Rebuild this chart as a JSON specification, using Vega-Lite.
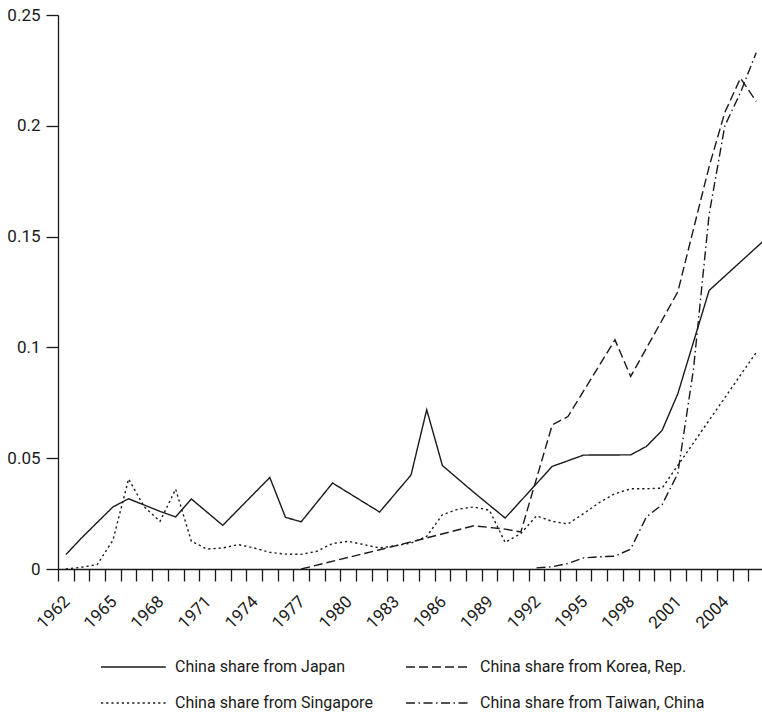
{
  "$schema": "https://vega.github.io/schema/vega-lite/v6.json",
  "width": 704,
  "height": 554,
  "autosize": {"type": "none"},
  "padding": {"left": 58, "top": 15, "right": 0, "bottom": 153},
  "background": "white",
  "config": {
    "font": "Roboto, sans-serif",
    "view": {"stroke": null},
    "axis": {
      "grid": false,
      "domainColor": "#1a1a1a",
      "domainWidth": 1.3,
      "tickColor": "#1a1a1a",
      "tickWidth": 1.3,
      "tickSize": 12,
      "labelColor": "#1a1a1a",
      "labelFontSize": 17,
      "labelFont": "Roboto, sans-serif",
      "title": null
    }
  },
  "datasets": {
    "shares": [
      {"series": "China share from Japan", "year": 1962, "share": 0.0065},
      {"series": "China share from Japan", "year": 1963, "share": 0.014},
      {"series": "China share from Japan", "year": 1964, "share": 0.021},
      {"series": "China share from Japan", "year": 1965, "share": 0.028},
      {"series": "China share from Japan", "year": 1966, "share": 0.0317},
      {"series": "China share from Japan", "year": 1968, "share": 0.026},
      {"series": "China share from Japan", "year": 1969, "share": 0.0235},
      {"series": "China share from Japan", "year": 1970, "share": 0.0316},
      {"series": "China share from Japan", "year": 1972, "share": 0.0197},
      {"series": "China share from Japan", "year": 1975, "share": 0.0413},
      {"series": "China share from Japan", "year": 1976, "share": 0.0233},
      {"series": "China share from Japan", "year": 1977, "share": 0.0213},
      {"series": "China share from Japan", "year": 1979, "share": 0.0388},
      {"series": "China share from Japan", "year": 1982, "share": 0.0257},
      {"series": "China share from Japan", "year": 1984, "share": 0.0424},
      {"series": "China share from Japan", "year": 1985, "share": 0.0719},
      {"series": "China share from Japan", "year": 1986, "share": 0.0467},
      {"series": "China share from Japan", "year": 1988, "share": 0.0346},
      {"series": "China share from Japan", "year": 1990, "share": 0.023},
      {"series": "China share from Japan", "year": 1993, "share": 0.0463},
      {"series": "China share from Japan", "year": 1995, "share": 0.0514},
      {"series": "China share from Japan", "year": 1998, "share": 0.0515},
      {"series": "China share from Japan", "year": 1999, "share": 0.0553},
      {"series": "China share from Japan", "year": 2000, "share": 0.0625},
      {"series": "China share from Japan", "year": 2001, "share": 0.079},
      {"series": "China share from Japan", "year": 2003, "share": 0.1257},
      {"series": "China share from Japan", "year": 2007, "share": 0.1515},

      {"series": "China share from Korea, Rep.", "year": 1977, "share": 0.0},
      {"series": "China share from Korea, Rep.", "year": 1982, "share": 0.0087},
      {"series": "China share from Korea, Rep.", "year": 1985, "share": 0.014},
      {"series": "China share from Korea, Rep.", "year": 1988, "share": 0.0195},
      {"series": "China share from Korea, Rep.", "year": 1990, "share": 0.018},
      {"series": "China share from Korea, Rep.", "year": 1991, "share": 0.0167},
      {"series": "China share from Korea, Rep.", "year": 1993, "share": 0.065},
      {"series": "China share from Korea, Rep.", "year": 1994, "share": 0.0688},
      {"series": "China share from Korea, Rep.", "year": 1997, "share": 0.1034},
      {"series": "China share from Korea, Rep.", "year": 1998, "share": 0.0869},
      {"series": "China share from Korea, Rep.", "year": 2001, "share": 0.125},
      {"series": "China share from Korea, Rep.", "year": 2003, "share": 0.1816},
      {"series": "China share from Korea, Rep.", "year": 2004, "share": 0.206},
      {"series": "China share from Korea, Rep.", "year": 2005, "share": 0.2215},
      {"series": "China share from Korea, Rep.", "year": 2006, "share": 0.211},

      {"series": "China share from Singapore", "year": 1962, "share": 0.0},
      {"series": "China share from Singapore", "year": 1963, "share": 0.0008},
      {"series": "China share from Singapore", "year": 1964, "share": 0.002},
      {"series": "China share from Singapore", "year": 1965, "share": 0.013},
      {"series": "China share from Singapore", "year": 1966, "share": 0.0406},
      {"series": "China share from Singapore", "year": 1967, "share": 0.028},
      {"series": "China share from Singapore", "year": 1968, "share": 0.0215},
      {"series": "China share from Singapore", "year": 1969, "share": 0.036},
      {"series": "China share from Singapore", "year": 1970, "share": 0.0125},
      {"series": "China share from Singapore", "year": 1971, "share": 0.009},
      {"series": "China share from Singapore", "year": 1972, "share": 0.0095},
      {"series": "China share from Singapore", "year": 1973, "share": 0.011},
      {"series": "China share from Singapore", "year": 1974, "share": 0.0095},
      {"series": "China share from Singapore", "year": 1975, "share": 0.0075},
      {"series": "China share from Singapore", "year": 1976, "share": 0.0067},
      {"series": "China share from Singapore", "year": 1977, "share": 0.0066},
      {"series": "China share from Singapore", "year": 1978, "share": 0.008},
      {"series": "China share from Singapore", "year": 1979, "share": 0.0115},
      {"series": "China share from Singapore", "year": 1980, "share": 0.0125},
      {"series": "China share from Singapore", "year": 1981, "share": 0.011},
      {"series": "China share from Singapore", "year": 1982, "share": 0.0095},
      {"series": "China share from Singapore", "year": 1983, "share": 0.0105},
      {"series": "China share from Singapore", "year": 1984, "share": 0.0117},
      {"series": "China share from Singapore", "year": 1985, "share": 0.0147},
      {"series": "China share from Singapore", "year": 1986, "share": 0.0245},
      {"series": "China share from Singapore", "year": 1987, "share": 0.027},
      {"series": "China share from Singapore", "year": 1988, "share": 0.028},
      {"series": "China share from Singapore", "year": 1989, "share": 0.0265},
      {"series": "China share from Singapore", "year": 1990, "share": 0.012},
      {"series": "China share from Singapore", "year": 1991, "share": 0.016},
      {"series": "China share from Singapore", "year": 1992, "share": 0.024},
      {"series": "China share from Singapore", "year": 1993, "share": 0.0215},
      {"series": "China share from Singapore", "year": 1994, "share": 0.0203},
      {"series": "China share from Singapore", "year": 1995, "share": 0.025},
      {"series": "China share from Singapore", "year": 1996, "share": 0.03},
      {"series": "China share from Singapore", "year": 1997, "share": 0.034},
      {"series": "China share from Singapore", "year": 1998, "share": 0.0362},
      {"series": "China share from Singapore", "year": 1999, "share": 0.0362},
      {"series": "China share from Singapore", "year": 2000, "share": 0.0365},
      {"series": "China share from Singapore", "year": 2006, "share": 0.0977},

      {"series": "China share from Taiwan, China", "year": 1992, "share": 0.0005},
      {"series": "China share from Taiwan, China", "year": 1993, "share": 0.001},
      {"series": "China share from Taiwan, China", "year": 1994, "share": 0.0025},
      {"series": "China share from Taiwan, China", "year": 1995, "share": 0.005},
      {"series": "China share from Taiwan, China", "year": 1996, "share": 0.0055},
      {"series": "China share from Taiwan, China", "year": 1997, "share": 0.0058},
      {"series": "China share from Taiwan, China", "year": 1998, "share": 0.009},
      {"series": "China share from Taiwan, China", "year": 1999, "share": 0.0235},
      {"series": "China share from Taiwan, China", "year": 2000, "share": 0.029},
      {"series": "China share from Taiwan, China", "year": 2001, "share": 0.043},
      {"series": "China share from Taiwan, China", "year": 2002, "share": 0.09},
      {"series": "China share from Taiwan, China", "year": 2003, "share": 0.16},
      {"series": "China share from Taiwan, China", "year": 2004, "share": 0.2},
      {"series": "China share from Taiwan, China", "year": 2005, "share": 0.215},
      {"series": "China share from Taiwan, China", "year": 2006, "share": 0.233}
    ]
  },
  "data": {"name": "shares"},
  "mark": {"type": "line", "clip": true, "color": "#1a1a1a"},
  "encoding": {
    "x": {
      "field": "year",
      "type": "quantitative",
      "scale": {"domain": [1961.5, 2006.37], "nice": false, "zero": false},
      "axis": {
        "values": [1962, 1963, 1964, 1965, 1966, 1967, 1968, 1969, 1970, 1971, 1972, 1973, 1974, 1975, 1976, 1977, 1978, 1979, 1980, 1981, 1982, 1983, 1984, 1985, 1986, 1987, 1988, 1989, 1990, 1991, 1992, 1993, 1994, 1995, 1996, 1997, 1998, 1999, 2000, 2001, 2002, 2003, 2004, 2005, 2006],
        "format": "d",
        "tickOffset": -7.84,
        "labelExpr": "(datum.value - 1962) % 3 === 0 ? datum.label : ''",
        "labelAngle": -45,
        "labelOverlap": false,
        "labelFlush": false,
        "labelPadding": 12,
        "labelOffset": 3
      }
    },
    "y": {
      "field": "share",
      "type": "quantitative",
      "scale": {"domain": [0, 0.25], "nice": false},
      "axis": {
        "values": [0, 0.05, 0.1, 0.15, 0.2, 0.25],
        "format": "~g",
        "labelFlush": false,
        "labelOverlap": false,
        "labelPadding": 6
      }
    },
    "strokeWidth": {
      "field": "series",
      "type": "nominal",
      "scale": {
        "domain": ["China share from Japan", "China share from Korea, Rep.", "China share from Singapore", "China share from Taiwan, China"],
        "range": [1.4, 1.4, 2.3, 1.4]
      },
      "legend": null
    },
    "strokeDash": {
      "field": "series",
      "type": "nominal",
      "scale": {
        "domain": ["China share from Japan", "China share from Korea, Rep.", "China share from Singapore", "China share from Taiwan, China"],
        "range": [[1, 0], [9, 4], [2.2, 3], [9, 3.5, 1.5, 3.5]]
      },
      "legend": {
        "title": null,
        "orient": "none",
        "legendX": 34,
        "legendY": 643,
        "direction": "horizontal",
        "columns": 2,
        "columnPadding": 24,
        "rowPadding": 19,
        "symbolType": "M0,0H8.1",
        "symbolSize": 256,
        "symbolStrokeWidth": 1.4,
        "symbolStrokeColor": "#1a1a1a",
        "symbolFillColor": "transparent",
        "labelFontSize": 16,
        "labelFont": "Roboto, sans-serif",
        "labelColor": "#1a1a1a",
        "labelOffset": 65,
        "labelLimit": 400
      }
    }
  }
}
